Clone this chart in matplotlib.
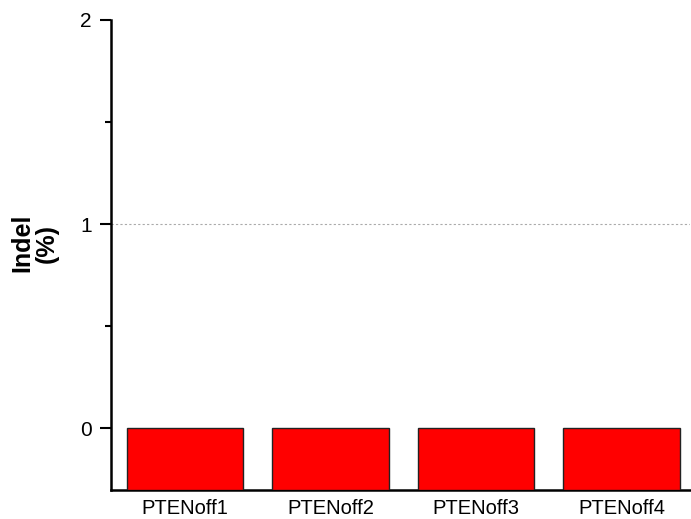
import matplotlib
matplotlib.use("Agg")
import matplotlib.pyplot as plt
from matplotlib.ticker import MultipleLocator

plt.rcParams['font.family'] = ['Liberation Sans', 'DejaVu Sans']

categories = ["PTENoff1", "PTENoff2", "PTENoff3", "PTENoff4"]
indel_pct = [0.0, 0.0, 0.0, 0.0]
y_ticks = [0, 1, 2]

fig = plt.figure(figsize=(6.91, 5.19), dpi=100)
ax = fig.add_axes([0.1606, 0.0568, 0.838, 0.9047])

ymin, ymax = -0.3, 2.0
x = list(range(len(categories)))
heights = [v - ymin for v in indel_pct]
ax.bar(x, heights, bottom=ymin, width=0.8, color="#ff0000",
       edgecolor="#222222", linewidth=1.0, zorder=3)

ax.axhline(1, color="#aaaaaa", linestyle=(0, (2, 2)), linewidth=0.8, zorder=1)

ax.set_ylim(ymin, ymax)
ax.set_xlim(-0.51, 3.47)
ax.set_yticks(y_ticks)
ax.set_yticklabels([str(t) for t in y_ticks], fontsize=15)
ax.yaxis.set_minor_locator(MultipleLocator(0.5))
ax.tick_params(axis="y", which="major", length=8, width=1.5, direction="out", pad=6)
ax.tick_params(axis="y", which="minor", length=4, width=1.5, direction="out")
ax.set_xticks(x)
ax.set_xticklabels(categories, fontsize=14.5)
ax.tick_params(axis="x", length=0, pad=7)

for side in ("top", "right"):
    ax.spines[side].set_visible(False)
for side in ("left", "bottom"):
    ax.spines[side].set_linewidth(1.8)

ax.set_ylabel("Indel\n(%)", fontsize=18, fontweight="bold", linespacing=1.0)
ax.yaxis.set_label_coords(-0.09, 0.525)

fig.savefig("out.png", dpi=100)
